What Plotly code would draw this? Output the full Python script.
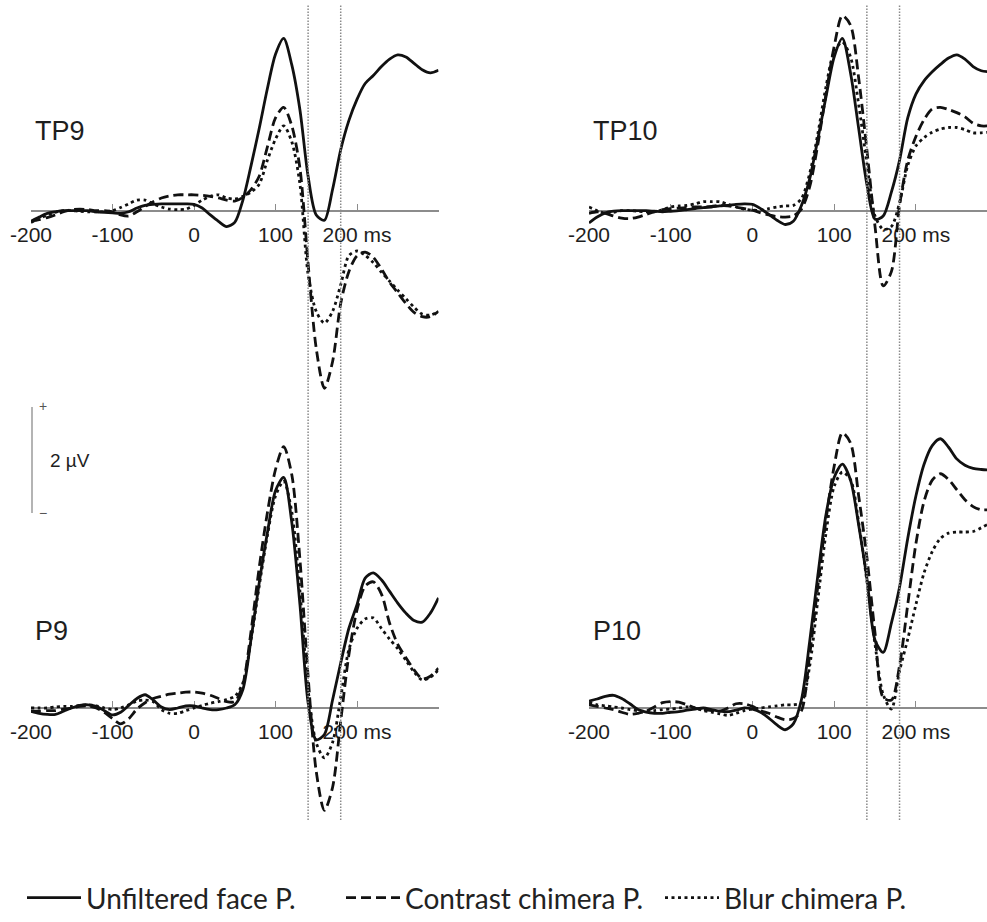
import plotly.graph_objects as go

# ---------------------------------------------------------------------------
# Grand-average ERPs (µV) at four occipito-temporal electrodes, sampled every 10 ms
# ---------------------------------------------------------------------------
time_ms = list(range(-200, 301, 10))

condition_names = ["Unfiltered face P.", "Contrast chimera P.", "Blur chimera P."]

tp9_unfiltered = [-0.20, -0.12, -0.05, -0.02, 0.00, 0.00, 0.00, 0.00, -0.02, -0.03,
                  -0.04, -0.05, -0.02, 0.05, 0.10, 0.12, 0.13, 0.13, 0.13, 0.13,
                  0.12, 0.05, -0.08, -0.20, -0.30, -0.22, 0.20, 0.85, 1.55, 2.30,
                  2.95, 3.25, 2.75, 1.90, 0.65, -0.08, -0.18, 0.40, 1.15, 1.70,
                  2.10, 2.40, 2.55, 2.72, 2.86, 2.94, 2.90, 2.78, 2.66, 2.60, 2.65]
tp9_contrast = [-0.20, -0.17, -0.13, -0.08, -0.02, 0.02, 0.03, 0.02, 0.00, 0.00,
                -0.02, -0.08, -0.10, -0.02, 0.08, 0.17, 0.24, 0.28, 0.30, 0.30,
                0.30, 0.29, 0.27, 0.24, 0.20, 0.18, 0.25, 0.40, 0.65, 1.20,
                1.75, 1.95, 1.60, 0.80, -1.00, -2.60, -3.35, -2.85, -1.75, -1.15,
                -0.85, -0.78, -0.88, -1.10, -1.35, -1.55, -1.75, -1.92, -2.00, -2.00, -1.90]
tp9_blur = [-0.22, -0.15, -0.08, -0.03, 0.00, 0.00, -0.01, -0.02, -0.02, -0.02,
            0.00, 0.06, 0.13, 0.20, 0.20, 0.13, 0.07, 0.03, 0.02, 0.03,
            0.10, 0.20, 0.27, 0.30, 0.24, 0.22, 0.27, 0.35, 0.50, 0.95,
            1.35, 1.60, 1.30, 0.50, -1.20, -1.90, -2.12, -1.90, -1.40, -0.85,
            -0.76, -0.84, -0.98, -1.16, -1.33, -1.50, -1.66, -1.82, -1.95, -1.97, -1.90]

tp10_unfiltered = [-0.23, -0.12, -0.04, -0.01, 0.00, 0.00, 0.00, 0.00, -0.01, -0.02,
                   -0.01, 0.00, 0.02, 0.04, 0.06, 0.07, 0.09, 0.10, 0.12, 0.13,
                   0.12, 0.04, -0.07, -0.18, -0.26, -0.20, 0.10, 0.60, 1.35, 2.15,
                   2.90, 3.25, 2.60, 1.55, 0.50, -0.16, -0.10, 0.35, 0.95, 1.75,
                   2.20, 2.45, 2.62, 2.76, 2.88, 2.94, 2.86, 2.72, 2.64, 2.62, 2.62]
tp10_contrast = [-0.05, -0.02, -0.05, -0.10, -0.14, -0.15, -0.12, -0.07, -0.02, 0.02,
                 0.04, 0.05, 0.06, 0.07, 0.07, 0.08, 0.10, 0.09, 0.07, 0.04,
                 0.01, -0.04, -0.08, -0.11, -0.12, -0.10, 0.03, 0.45, 1.25, 2.20,
                 3.10, 3.68, 3.50, 2.50, 1.15, -0.30, -1.42, -1.15, 0.10, 0.95,
                 1.40, 1.72, 1.92, 1.95, 1.91, 1.85, 1.77, 1.65, 1.60, 1.60, 1.60]
tp10_blur = [0.07, 0.00, -0.05, -0.03, 0.00, 0.00, -0.01, -0.02, -0.02, 0.02,
             0.07, 0.09, 0.10, 0.13, 0.17, 0.17, 0.17, 0.12, 0.07, 0.03,
             0.01, 0.01, 0.04, 0.07, 0.09, 0.10, 0.23, 0.70, 1.45, 2.34,
             3.00, 3.18, 2.90, 2.00, 0.90, -0.10, -0.35, -0.30, 0.15, 0.85,
             1.22, 1.38, 1.48, 1.54, 1.57, 1.57, 1.53, 1.47, 1.47, 1.48, 1.48]

p9_unfiltered = [-0.06, -0.10, -0.12, -0.12, -0.06, 0.00, 0.05, 0.06, 0.03, -0.05,
                 -0.13, -0.08, 0.05, 0.18, 0.25, 0.15, 0.02, -0.03, 0.00, 0.04,
                 0.04, 0.00, -0.03, -0.03, 0.00, 0.06, 0.35, 1.30, 2.36, 3.30,
                 4.10, 4.35, 3.50, 1.95, 0.10, -0.60, -0.50, 0.15, 0.85, 1.50,
                 1.95, 2.45, 2.55, 2.42, 2.20, 1.98, 1.79, 1.65, 1.62, 1.79, 2.08]
p9_contrast = [-0.06, -0.06, -0.05, -0.05, -0.02, 0.00, 0.03, 0.04, 0.00, -0.08,
               -0.20, -0.30, -0.20, -0.02, 0.10, 0.18, 0.22, 0.26, 0.28, 0.30,
               0.30, 0.28, 0.24, 0.18, 0.12, 0.12, 0.45, 1.45, 2.65, 3.68,
               4.50, 4.93, 4.40, 2.80, 0.60, -1.20, -1.93, -1.50, -0.25, 1.00,
               1.85, 2.30, 2.38, 2.15, 1.60, 1.20, 0.95, 0.72, 0.55, 0.60, 0.75]
p9_blur = [0.00, 0.00, 0.00, 0.02, 0.03, 0.03, 0.05, 0.06, 0.04, 0.00,
           -0.03, 0.00, 0.06, 0.13, 0.15, 0.12, -0.03, -0.10, -0.10, -0.05,
           0.00, 0.05, 0.09, 0.12, 0.16, 0.22, 0.47, 1.29, 2.30, 3.25,
           4.00, 4.28, 3.70, 2.20, 0.35, -0.66, -0.94, -0.65, 0.20, 1.10,
           1.50, 1.68, 1.70, 1.50, 1.30, 1.12, 0.90, 0.68, 0.53, 0.58, 0.72]

p10_unfiltered = [0.13, 0.17, 0.22, 0.24, 0.18, 0.08, -0.03, -0.08, -0.10, -0.10,
                  -0.08, -0.07, -0.04, -0.02, 0.00, -0.03, -0.06, -0.07, -0.04, 0.00,
                  -0.02, -0.08, -0.19, -0.32, -0.41, -0.30, 0.16, 1.25, 2.50, 3.65,
                  4.35, 4.60, 4.30, 3.45, 2.45, 1.28, 1.05, 1.60, 2.28, 3.20,
                  4.00, 4.60, 4.95, 5.08, 4.92, 4.70, 4.58, 4.52, 4.50, 4.49, 4.49]
p10_contrast = [0.06, 0.03, 0.00, -0.03, -0.08, -0.12, -0.10, -0.06, 0.02, 0.10,
                0.12, 0.11, 0.06, 0.00, -0.03, -0.05, -0.06, 0.00, 0.08, 0.08,
                0.03, -0.05, -0.10, -0.17, -0.22, -0.20, -0.05, 1.00, 2.30, 3.55,
                4.56, 5.19, 5.00, 4.00, 2.85, 1.41, 0.20, 0.15, 0.80, 1.95,
                3.10, 3.90, 4.30, 4.42, 4.31, 4.12, 3.93, 3.80, 3.74, 3.74, 3.74]
p10_blur = [0.10, 0.06, 0.04, 0.02, 0.00, -0.03, -0.05, -0.06, -0.05, -0.03,
            -0.02, 0.00, 0.02, 0.00, -0.05, -0.08, -0.11, -0.14, -0.10, -0.05,
            -0.02, 0.00, 0.02, 0.04, 0.06, 0.06, 0.10, 0.79, 2.04, 3.30,
            4.18, 4.45, 4.31, 3.50, 2.40, 1.20, 0.25, -0.02, 0.70, 1.30,
            1.95, 2.55, 2.95, 3.20, 3.30, 3.32, 3.32, 3.33, 3.40, 3.48, 3.50]

channel_names = ["TP9", "TP10", "P9", "P10"]
channel_data = [
    [tp9_unfiltered, tp9_contrast, tp9_blur],
    [tp10_unfiltered, tp10_contrast, tp10_blur],
    [p9_unfiltered, p9_contrast, p9_blur],
    [p10_unfiltered, p10_contrast, p10_blur],
]

tick_values = [-200, -100, 0, 100, 200]
tick_labels = ["-200", "-100", "0", "100", "200 ms"]
window_ms = [140, 180]  # analysis window marked by the dotted verticals
scale_bar_uv = 2

# ---------------------------------------------------------------------------
# Page geometry (pixels)
# ---------------------------------------------------------------------------
W, H = 987, 922
PX_PER_UV = 53.0

def fx(px):
    return px / W

def fy(px):
    return 1 - px / H

# column: pixel span of the x axis and its time range
columns = [
    dict(px=(31, 438.5), rng=(-200, 300)),
    dict(px=(589, 987), rng=(-200, 287)),
]
# row: pixel span of the subplot and pixel row of the 0 µV line
rows = [
    dict(px=(0, 405), zero=210.7, label_y=131),
    dict(px=(400, 830), zero=708, label_y=631),
]

line_styles = [
    dict(color="#111111", width=2.8, dash="solid"),
    dict(color="#111111", width=2.8, dash="10px,5px"),
    dict(color="#111111", width=2.8, dash="3px,3.5px"),
]

sans = "Arial, Liberation Sans, sans-serif"
tick_font = dict(family=sans, size=21, color="#1e1e1e")
axis_gray = "#8c8c8c"

fig = go.Figure()
layout = dict(
    width=W, height=H,
    margin=dict(l=0, r=0, t=0, b=0, autoexpand=False),
    paper_bgcolor="white", plot_bgcolor="rgba(0,0,0,0)",
    showlegend=True,
    legend=dict(
        orientation="h", x=fx(22), xanchor="left", y=fy(898), yanchor="middle",
        font=dict(family="Lato, Carlito, sans-serif", size=28, color="#222222"),
        bgcolor="rgba(0,0,0,0)", itemwidth=54,
        entrywidth=250, entrywidthmode="pixels",
    ),
)
annotations = []
shapes = []

for k, name in enumerate(channel_names):
    r, c = divmod(k, 2)
    col, row = columns[c], rows[r]
    ax = "" if k == 0 else str(k + 1)

    y_top = (row["zero"] - row["px"][0]) / PX_PER_UV
    y_bot = (row["zero"] - row["px"][1]) / PX_PER_UV

    layout["xaxis" + ax] = dict(
        domain=[fx(col["px"][0]), fx(col["px"][1])], range=list(col["rng"]),
        anchor="free", position=fy(row["zero"]),
        showline=True, linecolor=axis_gray, linewidth=1.5,
        ticks="inside", ticklen=6, tickwidth=1, tickcolor=axis_gray,
        tickvals=tick_values, ticktext=tick_labels, tickfont=tick_font,
        ticklabelstandoff=5,
        showgrid=False, zeroline=False, layer="below traces", fixedrange=True,
    )
    layout["yaxis" + ax] = dict(
        domain=[fy(row["px"][1]), fy(row["px"][0])], range=[y_bot, y_top],
        anchor="x" + ax, visible=False, fixedrange=True,
    )

    for j, series in enumerate(channel_data[k]):
        fig.add_trace(go.Scatter(
            x=time_ms, y=series, mode="lines",
            line=dict(shape="spline", smoothing=0.8, **line_styles[j]),
            name=condition_names[j], legendgroup=condition_names[j],
            showlegend=(k == 0),
            xaxis="x" + ax, yaxis="y" + ax,
        ))

    annotations.append(dict(
        text=name, xref="paper", yref="paper",
        x=fx(col["px"][0] + 2), y=fy(row["label_y"]),
        xanchor="left", yanchor="middle", showarrow=False,
        font=dict(family=sans, size=27, color="#1e1e1e"),
    ))

# analysis-window markers spanning both rows of each column
for xref in ("x", "x2"):
    for t in window_ms:
        shapes.append(dict(
            type="line", xref=xref, yref="paper", x0=t, x1=t,
            y0=fy(820), y1=fy(5),
            line=dict(color="#8a8a8a", width=1.5, dash="1.5px,1.5px"),
        ))

# amplitude scale bar
bar_top = 407
bar_bot = bar_top + scale_bar_uv * PX_PER_UV
shapes.append(dict(
    type="line", xref="paper", yref="paper", x0=fx(32), x1=fx(32),
    y0=fy(bar_bot), y1=fy(bar_top), line=dict(color=axis_gray, width=1.3),
))
annotations += [
    dict(text="+", xref="paper", yref="paper", x=fx(37), y=fy(bar_top - 1),
         xanchor="left", yanchor="middle", showarrow=False,
         font=dict(family=sans, size=14, color="#555555")),
    dict(text="\u2212", xref="paper", yref="paper", x=fx(37), y=fy(bar_bot),
         xanchor="left", yanchor="middle", showarrow=False,
         font=dict(family=sans, size=14, color="#555555")),
    dict(text=f"{scale_bar_uv} \u00b5V", xref="paper", yref="paper", x=fx(48),
         y=fy((bar_top + bar_bot) / 2), xanchor="left", yanchor="middle", showarrow=False,
         font=dict(family=sans, size=19, color="#1e1e1e")),
]

layout["annotations"] = annotations
layout["shapes"] = shapes
fig.update_layout(**layout)

fig.write_html("out.html")
